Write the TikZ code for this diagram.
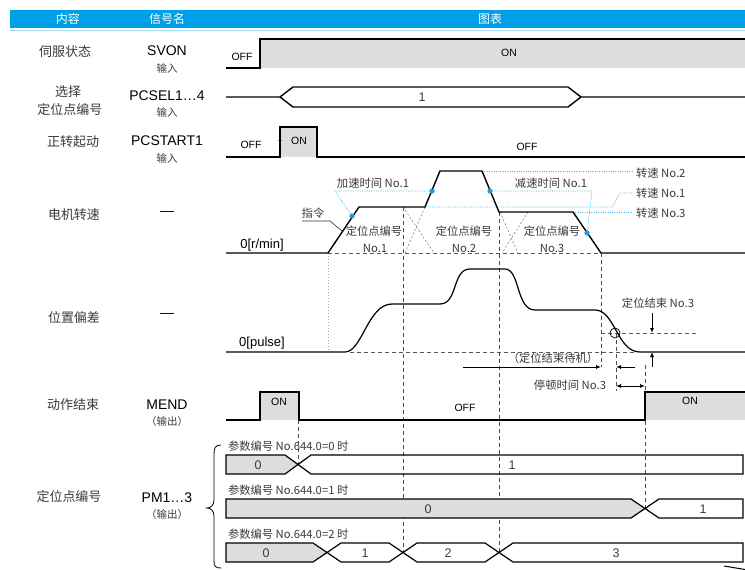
\documentclass[tikz,border=0pt]{standalone}
\usepackage{fontspec}
\setmainfont{Liberation Sans}
\newfontfamily\cjk{Noto Sans CJK SC}
\usetikzlibrary{arrows.meta}
\definecolor{hdr}{HTML}{00A0E9}
\definecolor{hdrl}{HTML}{9FD9F6}
\definecolor{gfill}{HTML}{DCDDDD}
\definecolor{bdotc}{HTML}{1D9BE0}
\definecolor{blinec}{HTML}{4DB8EC}
\definecolor{txt}{HTML}{3A3A3A}
\begin{document}
\begin{tikzpicture}[x=1pt,y=-1pt,
  every node/.style={inner sep=0pt, outer sep=0pt},
  sig/.style={line width=1.4pt, black, line join=miter},
  poscurve/.style={line width=1.2pt, black},
  box/.style={line width=1.2pt, black, line join=miter},
  gbox/.style={fill=gfill, draw=none},
  vdash/.style={dash pattern=on 4pt off 3pt, line width=0.7pt, black!70},
  hdash/.style={dash pattern=on 4pt off 3pt, line width=0.6pt, black!65},
  ghost/.style={dash pattern=on 2pt off 2pt, line width=0.5pt, black!55},
  faint/.style={dash pattern=on 1pt off 2pt, line width=0.5pt, black!35},
  bdot/.style={blinec, dash pattern=on 1pt off 1.3pt, line width=0.7pt},
  bball/.style={fill=bdotc, draw=none},
  arr/.style={line width=0.9pt, black, -{Latex[length=5pt,width=4pt]}},
  darr/.style={line width=0.9pt, black, {Latex[length=5pt,width=4pt]}-{Latex[length=5pt,width=4pt]}},
  htxt/.style={text=white, font=\cjk\fontsize{12}{14}\selectfont},
  lbl/.style={text=txt, font=\cjk\fontsize{13}{15}\selectfont},
  sname/.style={text=black, font=\fontsize{14}{16}\selectfont},
  subl/.style={text=txt, font=\cjk\fontsize{10.5}{12}\selectfont},
  st/.style={text=black, font=\fontsize{10.5}{12}\selectfont},
  dl/.style={text=txt, font=\cjk\fontsize{11.3}{13}\selectfont},
  num/.style={text=txt, font=\fontsize{12.5}{14}\selectfont},
  zl/.style={text=black, font=\fontsize{13}{15}\selectfont}
]
\useasboundingbox (0,0) rectangle (745,570);

% header
\fill[hdr] (10,10) rectangle (745,28);
\draw[hdrl, line width=1pt] (10,30.5) -- (745,30.5);
\node[htxt] (h1) at (68,19) {内容};
\node[htxt] (h2) at (167,19) {信号名};
\node[htxt] (h3) at (490,19) {图表};

% left column
\node[lbl] (l1) at (65,52) {伺服状态};
\node[sname] (s1) at (167,51) {SVON};
\node[subl] (i1) at (167,68) {输入};

\node[lbl] (l2a) at (68,92) {选择};
\node[lbl] (l2b) at (70,110) {定位点编号};
\node[sname] (s2) at (167,96) {PCSEL1…4};
\node[subl] (i2) at (167,112) {输入};

\node[lbl] (l3) at (73,142) {正转起动};
\node[sname] (s3) at (167,141) {PCSTART1};
\node[subl] (i3) at (167,158) {输入};

\node[lbl] (l4) at (74,215) {电机转速};
\node[sname] (s4) at (167,213) {—};

\node[lbl] (l5) at (74,317) {位置偏差};
\node[sname] (s5) at (167,315) {—};

\node[lbl] (l6) at (73,405) {动作结束};
\node[sname] (s6) at (167,405) {MEND};
\node[subl] (i6) at (167,422) {（输出）};

\node[lbl] (l7) at (69,497) {定位点编号};
\node[sname] (s7) at (167,498) {PM1…3};
\node[subl] (i7) at (167,515) {（输出）};

% SVON
\fill[gfill] (260,39) rectangle (745,68);
\draw[sig] (226,68) -- (260,68) -- (260,39) -- (745,39);
\node[st] (svoff) at (242,57) {OFF};
\node[st] (svon) at (509,53) {ON};

% PCSEL
\draw[sig] (226,97) -- (280,97) -- (293,87) -- (568,87) -- (581,97) -- (745,97);
\draw[sig] (280,97) -- (293,107) -- (568,107) -- (581,97);
\node[num] (pc1) at (422,97) {1};

% PCSTART
\fill[gfill] (280,127) rectangle (317,157);
\draw[sig] (226,157) -- (280,157) -- (280,127) -- (317,127) -- (317,157) -- (745,157);
\coordinate (upa) at (280,147);
\coordinate (upb) at (280,137);
\draw[line width=0.8pt, -{Latex[length=4pt,width=3.5pt]}] (upa) -- (upb);
\node[st] (ps1) at (299,141) {ON};
\node[st] (ps2) at (251,145) {OFF};
\node[st] (ps3) at (527,147) {OFF};

% vertical dashed lines
\draw[vdash] (403,207) -- (403,552);
\draw[vdash] (499,212) -- (499,552);
\draw[vdash] (601,253) -- (601,367);
\draw[vdash] (645,365) -- (645,508);
\draw[vdash] (298,420) -- (298,464);
\draw[vdash] (616,333) -- (616,391);
\draw[faint] (328,253) -- (328,352);

% motor speed
\draw[hdash] (328,253) -- (601,253);
\draw[ghost] (403,207) -- (434,253);
\draw[ghost] (425,207) -- (405,253);
\draw[ghost] (500,212) -- (518,253);
\draw[ghost] (528,212) -- (502,253);
% blue dotted guide lines
\draw[bdot] (432,191) -- (335,191) -- (352,216);
\draw[bdot] (490,191) -- (592,191) -- (587,233);
\draw[bdot] (482,171) -- (632,171);
\draw[bdot] (425,207) -- (612,207) -- (620,193) -- (632,193);
\draw[bdot] (573,212) -- (632,212);
\draw[sig] (226,253) -- (328,253) -- (359,207) -- (425,207) -- (440,171) -- (482,171) -- (499,212) -- (573,212) -- (601,253) -- (745,253);
\fill[bball] (352,216) circle (2.6);
\fill[bball] (432,191) circle (2.6);
\fill[bball] (490,191) circle (2.6);
\fill[bball] (587,233) circle (2.6);
\node[dl] (acc) at (373,183) {加速时间 No.1};
\node[dl] (dec) at (551,183) {减速时间 No.1};
\node[dl, anchor=west] (v2) at (636,173) {转速 No.2};
\node[dl, anchor=west] (v1) at (636,193) {转速 No.1};
\node[dl, anchor=west] (v3) at (636,213) {转速 No.3};
\node[dl] (cmd) at (313,213) {指令};
\coordinate (cmda) at (302,221);
\coordinate (cmdb) at (330,221);
\coordinate (cmdc) at (342,231);
\draw[line width=0.6pt, black!80] (cmda) -- (cmdb) -- (cmdc);
\node[zl] (rmin) at (262,245) {0[r/min]};
\node[dl] (p1a) at (374,231) {定位点编号};
\node[dl] (p1b) at (375,248) {No.1};
\node[dl] (p2a) at (464,231) {定位点编号};
\node[dl] (p2b) at (464,248) {No.2};
\node[dl] (p3a) at (552,231) {定位点编号};
\node[dl] (p3b) at (552,248) {No.3};

% position deviation
\draw[hdash] (350,352) -- (637,352);
\draw[hdash] (601,333) -- (697,333);
\draw[poscurve] (226,352) -- (345,352) .. controls (362,352) and (368,304) .. (392,304) -- (440,304) .. controls (458,304) and (452,269) .. (470,269) -- (505,269) .. controls (520,269) and (516,310) .. (535,310) -- (595,310) .. controls (615,310) and (617,352) .. (640,352) -- (745,352);
\draw[line width=0.7pt] (615,333) circle (5);
\node[zl] (pul) at (262,343) {0[pulse]};
\node[dl] (pe) at (658,303) {定位结束 No.3};
\coordinate (dnA) at (652,313);
\coordinate (dnB) at (652,333);
\coordinate (upA) at (652,367);
\coordinate (upB) at (652,352);
\draw[arr] (dnA) -- (dnB);
\draw[arr] (upA) -- (upB);
\node[dl] (wait) at (553,358) {（定位结束待机）};
\coordinate (wA) at (463,367);
\coordinate (wB) at (601,367);
\draw[arr] (wA) -- (wB);
\coordinate (lA) at (635,367);
\coordinate (lB) at (616,367);
\draw[arr] (lA) -- (lB);
\coordinate (dA) at (616,386);
\coordinate (dB) at (645,386);
\draw[darr] (dA) -- (dB);
\node[dl] (dw) at (570,385) {停顿时间 No.3};

% MEND
\fill[gfill] (260,392) rectangle (299,420);
\fill[gfill] (645,392) rectangle (745,420);
\draw[sig] (226,420) -- (260,420) -- (260,392) -- (299,392) -- (299,420) -- (645,420) -- (645,392) -- (745,392);
\node[st] (m1) at (279,402) {ON};
\node[st] (m2) at (465,408) {OFF};
\node[st] (m3) at (690,401) {ON};

% brace
\draw[line width=0.8pt] (221,445) .. controls (215,445) and (214,448) .. (214,455) -- (214,500) .. controls (214,505) and (211,508) .. (207,508) .. controls (211,508) and (214,511) .. (214,516) -- (214,561) .. controls (214,566) and (215,568) .. (221,568);

% PM rows
\node[dl, anchor=west] (pa) at (228,446) {参数编号 No.644.0=0 时};
\filldraw[box, fill=gfill] (226,455) -- (285,455) -- (298,464.5) -- (285,474) -- (226,474) -- cycle;
\draw[box] (298,464.5) -- (311,455) -- (743,455) -- (743,474) -- (311,474) -- cycle;
\node[num] (a0) at (258,465) {0};
\node[num] (a1) at (512,465) {1};

\node[dl, anchor=west] (pb) at (228,490) {参数编号 No.644.0=1 时};
\filldraw[box, fill=gfill] (226,499) -- (631,499) -- (645,508.5) -- (631,518) -- (226,518) -- cycle;
\draw[box] (645,508.5) -- (659,499) -- (743,499) -- (743,518) -- (659,518) -- cycle;
\node[num] (b0) at (428,509) {0};
\node[num] (b1) at (703,509) {1};

\node[dl, anchor=west] (pc) at (228,534) {参数编号 No.644.0=2 时};
\filldraw[box, fill=gfill] (226,543) -- (313,543) -- (327,552.5) -- (313,562) -- (226,562) -- cycle;
\draw[box] (327,552.5) -- (341,543) -- (389,543) -- (403,552.5) -- (389,562) -- (341,562) -- cycle;
\draw[box] (403,552.5) -- (417,543) -- (485,543) -- (499,552.5) -- (485,562) -- (417,562) -- cycle;
\draw[box] (499,552.5) -- (513,543) -- (743,543) -- (743,562) -- (513,562) -- cycle;
\node[num] (c0) at (266,553) {0};
\node[num] (c1) at (365,553) {1};
\node[num] (c2) at (448,553) {2};
\node[num] (c3) at (616,553) {3};

% time axis mark
\coordinate (ta) at (724,566);
\coordinate (tb) at (745,569.5);
\draw[line width=1pt] (ta) -- (tb);
\end{tikzpicture}
\end{document}
